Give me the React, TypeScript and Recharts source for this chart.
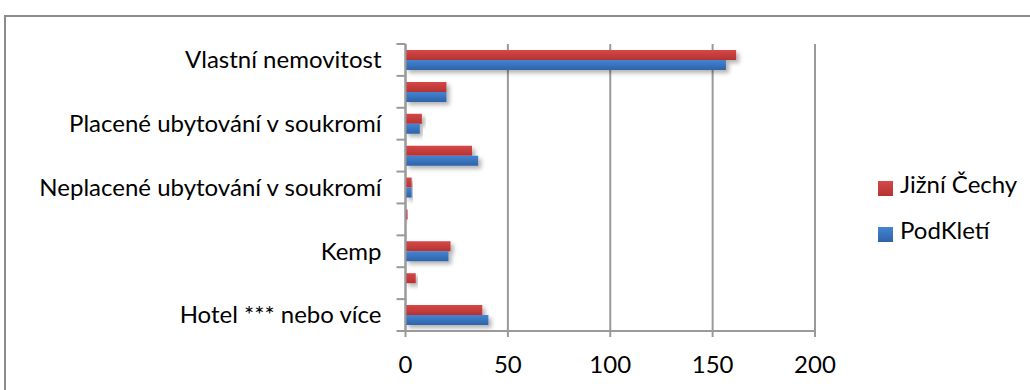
import React from "react";
import { BarChart, Bar, XAxis, YAxis, CartesianGrid, Legend } from "recharts";

const categories = [
  "Vlastní nemovitost",
  "Chata / chalupa",
  "Placené ubytování v soukromí",
  "Penzion",
  "Neplacené ubytování v soukromí",
  "Ubytovna",
  "Kemp",
  "Hotel ** nebo méně",
  "Hotel *** nebo více",
];
const jizniCechy = [161.5, 20, 8, 32.5, 3, 1, 22, 5, 37.5];
const podKleti = [156.5, 20, 7, 35.5, 3, 0, 21, 0, 40.5];
const xTicks = [0, 50, 100, 150, 200];

const data = categories.map((name, i) => ({ name, jc: jizniCechy[i], pk: podKleti[i] }));

const W = 1030;
const H = 390;
const M = { top: 44, right: 215, bottom: 14, left: 0 };
const Y_W = 405.5;
const X_H = 45;
const PLOT_H = H - M.top - M.bottom - X_H;
const BAND = PLOT_H / categories.length;
const FONT = "Lato, 'DejaVu Sans', sans-serif";
const FS = 24;
const GRID = "#9a9a9a";
const SWATCH: Record<string, string> = {
  jc: "linear-gradient(#d44848, #b73232)",
  pk: "linear-gradient(#4484d2, #2f63a8)",
};

const CatTick = (props: any) => {
  const { x, y, payload, index } = props;
  const last = index === categories.length - 1;
  return (
    <g>
      <line x1={x - 9} x2={x} y1={y - BAND / 2} y2={y - BAND / 2} stroke={GRID} strokeWidth={2} />
      {last && (
        <line x1={x - 9} x2={x} y1={y + BAND / 2} y2={y + BAND / 2} stroke={GRID} strokeWidth={2} />
      )}
      {index % 2 === 0 && (
        <text x={x - 24} y={y} dy="0.35em" textAnchor="end" fill="#000" fontSize={FS} fontFamily={FONT}>
          {payload.value}
        </text>
      )}
    </g>
  );
};

const LegendContent = (props: any) => {
  const { payload } = props;
  return (
    <div style={{ fontFamily: FONT, fontSize: FS, color: "#000" }}>
      {payload.map((p: any, i: number) => (
        <div key={i} style={{ display: "flex", alignItems: "center", height: 46 }}>
          <span
            style={{
              display: "inline-block",
              width: 15,
              height: 15,
              background: SWATCH[p.dataKey as string],
              marginRight: 7,
              position: "relative",
              top: 5,
            }}
          />
          <span>{p.value}</span>
        </div>
      ))}
    </div>
  );
};

export default function App() {
  return (
    <div style={{ position: "absolute", left: 0, top: 0, width: W, height: H, overflow: "hidden", background: "#fff" }}>
      <div
        style={{
          position: "absolute",
          left: 4,
          top: 15,
          width: 1100,
          height: 500,
          border: "2px solid #8c8c8c",
          boxSizing: "border-box",
        }}
      />
      <BarChart
        width={W}
        height={H}
        data={data}
        layout="vertical"
        margin={M}
        barSize={10}
        barGap={0}
        style={{ fontFamily: FONT }}
      >
        <defs>
          <linearGradient id="gRed" x1="0" y1="0" x2="0" y2="1">
            <stop offset="0%" stopColor="#d44848" />
            <stop offset="100%" stopColor="#b73232" />
          </linearGradient>
          <linearGradient id="gBlue" x1="0" y1="0" x2="0" y2="1">
            <stop offset="0%" stopColor="#4484d2" />
            <stop offset="100%" stopColor="#2f63a8" />
          </linearGradient>
          <filter id="shadow" x="-10%" y="-50%" width="130%" height="250%">
            <feDropShadow dx="3" dy="3" stdDeviation="2" floodColor="#000" floodOpacity="0.3" />
          </filter>
        </defs>
        <CartesianGrid horizontal={false} vertical={true} stroke={GRID} strokeWidth={2} />
        <XAxis
          type="number"
          domain={[0, 200]}
          ticks={xTicks}
          height={X_H}
          axisLine={{ stroke: GRID, strokeWidth: 2 }}
          tickLine={{ stroke: GRID, strokeWidth: 2 }}
          tickSize={6}
          tickMargin={19}
          tick={{ fill: "#000", fontSize: FS, fontFamily: FONT }}
        />
        <YAxis
          type="category"
          dataKey="name"
          width={Y_W}
          interval={0}
          axisLine={{ stroke: GRID, strokeWidth: 2 }}
          tickLine={false}
          tickSize={0}
          tickMargin={0}
          tick={<CatTick />}
        />
        <Legend
          layout="horizontal"
          align="center"
          verticalAlign="middle"
          content={<LegendContent />}
          wrapperStyle={{ left: 878, top: 160, width: 150 }}
        />
        <Bar dataKey="jc" name="Jižní Čechy" fill="url(#gRed)" legendType="square" isAnimationActive={false} style={{ filter: "url(#shadow)" }} />
        <Bar dataKey="pk" name="PodKletí" fill="url(#gBlue)" legendType="square" isAnimationActive={false} style={{ filter: "url(#shadow)" }} />
      </BarChart>
    </div>
  );
}
